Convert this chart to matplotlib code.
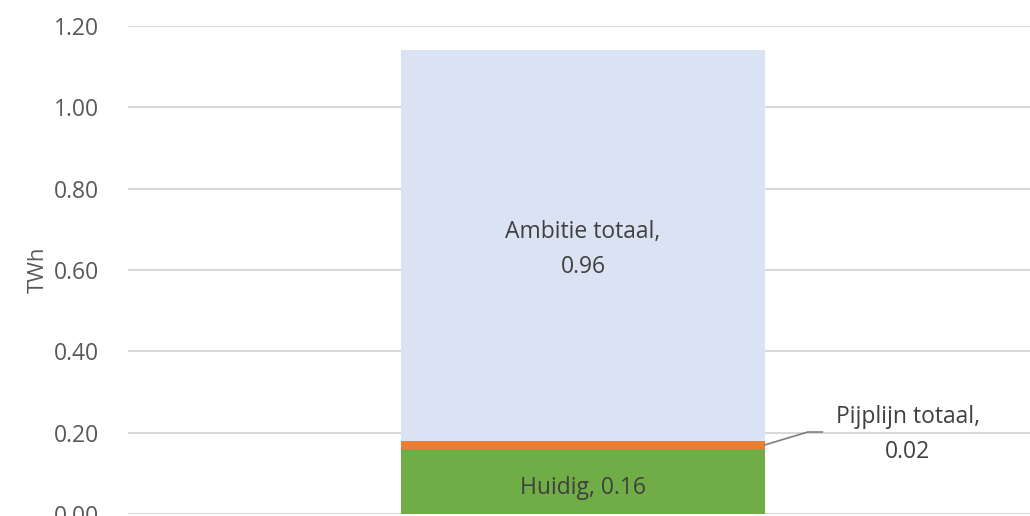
import matplotlib.pyplot as plt

# Waarden (TWh)
categorie = ['Totaal']
huidig = [0.16]
pijplijn = [0.02]
ambitie = [0.96]
yticks = [0.0, 0.2, 0.4, 0.6, 0.8, 1.0, 1.2]

plt.rcParams['font.family'] = ['Open Sans', 'DejaVu Sans']

fig = plt.figure(figsize=(10.3, 5.16), dpi=100)
ax = fig.add_axes([128 / 1030, 2 / 516, 910 / 1030, 488 / 516])

breedte = 0.4
x = [0]
ax.bar(x, huidig, width=breedte, color='#70AD47', zorder=3)
ax.bar(x, pijplijn, width=breedte, bottom=huidig, color='#ED7D31', zorder=3)
onder = [h + p for h, p in zip(huidig, pijplijn)]
ax.bar(x, ambitie, width=breedte, bottom=onder, color='#DAE3F3', zorder=3)

ax.set_xlim(-0.5, 0.5)
ax.set_ylim(0, 1.2)
ax.set_yticks(yticks)
ax.set_yticklabels([f'{v:.2f}' for v in yticks])
ax.set_xticks([])
ax.yaxis.grid(True, color='#D9D9D9', linewidth=1.5, zorder=0)
for s in ax.spines.values():
    s.set_visible(False)
ax.tick_params(axis='y', length=0, pad=21, labelsize=16.5, labelcolor='#595959')
fig.text(38 / 1030, 1 - 270 / 516, 'TWh', rotation=90, ha='center', va='center',
         fontsize=16, color='#595959')

tekst = '#404040'
ax.text(0, onder[0] + ambitie[0] * 0.49, f'Ambitie totaal,\n{ambitie[0]:.2f}',
        ha='center', va='center', fontsize=16.5, color=tekst, linespacing=1.65, zorder=4)
ax.text(0, huidig[0] * 0.4, f'Huidig, {huidig[0]:.2f}',
        ha='center', va='center', fontsize=16.5, color=tekst, zorder=4)

# leader line naar Pijplijn
y0 = huidig[0] + pijplijn[0] / 2
ax.plot([breedte / 2, 0.247, 0.263], [y0, 0.2016, 0.2016], color='#7F7F7F',
        linewidth=1.2, zorder=4, clip_on=False)
ax.text(0.357, 0.1955, f'Pijplijn totaal,\n{pijplijn[0]:.2f}', ha='center', va='center',
        fontsize=16.5, color=tekst, linespacing=1.65, zorder=4)

fig.savefig('out.png', dpi=100)
